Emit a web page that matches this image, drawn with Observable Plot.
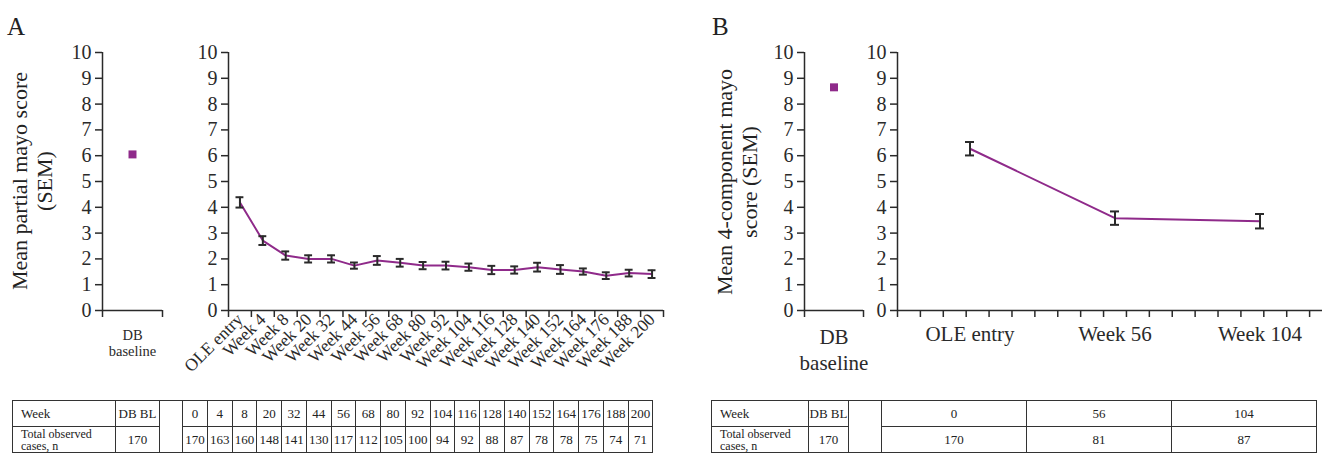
<!DOCTYPE html>
<html><head><meta charset="utf-8">
<script src="https://cdn.jsdelivr.net/npm/d3@7"></script>
<script src="https://cdn.jsdelivr.net/npm/@observablehq/plot@0.6"></script>
<style>
body{margin:0;background:#fff}
#root{position:relative;width:1322px;height:454px;overflow:hidden;background:#fff;font-family:"Liberation Serif",serif;color:#222}
#root svg{position:absolute;left:0;top:0}
.letter{position:absolute;font-size:25px;line-height:25px}
.ylab{position:absolute;font-size:22px;line-height:25px;text-align:center;white-space:nowrap;transform:translate(-50%,-50%) rotate(-90deg)}
table.n{position:absolute;border-collapse:collapse;table-layout:fixed;font-size:13px}
table.n td{border:1px solid #333;padding:0;text-align:center;height:25px;line-height:1;white-space:nowrap;overflow:hidden}
table.n td.h{text-align:left;padding-left:8px}
table.n td.t{text-align:left;padding-left:8px;font-size:12px;line-height:12px}
</style></head>
<body><div id="root"></div>
<script>
// ---- data ----
const weeksA = ["OLE entry","Week 4","Week 8","Week 20","Week 32","Week 44","Week 56","Week 68","Week 80","Week 92","Week 104","Week 116","Week 128","Week 140","Week 152","Week 164","Week 176","Week 188","Week 200"];
const meanA = [4.19,2.71,2.13,2.0,2.0,1.74,1.94,1.85,1.74,1.74,1.68,1.57,1.57,1.68,1.59,1.51,1.35,1.45,1.41];
const semA  = [0.20,0.17,0.16,0.14,0.14,0.12,0.17,0.15,0.14,0.15,0.14,0.16,0.14,0.17,0.17,0.12,0.13,0.13,0.15];
const weekNumsA = ["0","4","8","20","32","44","56","68","80","92","104","116","128","140","152","164","176","188","200"];
const nA = [170,163,160,148,141,130,117,112,105,100,94,92,88,87,78,78,75,74,71];
const dbCat = ["DB baseline"];
const dbMeanA = [6.05];
const dbN = 170;

const weeksB = ["OLE entry","Week 56","Week 104"];
const meanB = [6.27,3.58,3.46];
const semB  = [0.26,0.26,0.28];
const weekNumsB = ["0","56","104"];
const nB = [170,81,87];
const dbMeanB = [8.65];

const yTicks = [0,1,2,3,4,5,6,7,8,9,10];
const minorA = 19; // number of minor tick intervals on the OLE axis

// ---- helpers ----
const C = "#2a2a2a", PURPLE = "#8f2a8a", FONT = "Liberation Serif";
const root = document.getElementById("root");
const H = 454;
const style = {background:"transparent", overflow:"visible", maxWidth:"none", fontFamily:FONT, color:C};
function geo(x0, x1, width){ return {width, height:H, marginLeft:x0, marginRight:width-x1, marginTop:52, marginBottom:H-310}; }
function add(svg){ root.appendChild(svg); }

function axisPlot(g, n){
  return Plot.plot({...g, style,
    x:{domain:[0,n]}, y:{domain:[0,10]},
    marks:[
      Plot.ruleX([0], {y1:0, y2:10, stroke:C, strokeWidth:1.5}),
      Plot.ruleY([0], {stroke:C, strokeWidth:1.5}),
      Plot.axisY({ticks:yTicks, tickSize:7, tickPadding:4, fontSize:20, label:null, strokeWidth:1.5}),
      Plot.axisX({ticks:d3.range(0, n+1), tickSize:7, tickFormat:()=>"", label:null, strokeWidth:1.5})
    ]});
}
function dataPlot(g, cats, marks, axisOpts){
  return Plot.plot({...g, style,
    x:{type:"band", domain:cats, padding:0, round:false}, y:{domain:[0,10], axis:null},
    marks:[...marks, Plot.axisX({tickSize:0, label:null, ...axisOpts})]});
}
function seriesMarks(cats, mean, sem, capInset){
  const rows = cats.map((c,i)=>({c, m:mean[i], lo:mean[i]-sem[i], hi:mean[i]+sem[i]}));
  return [
    Plot.line(rows, {x:"c", y:"m", stroke:PURPLE, strokeWidth:2}),
    Plot.ruleX(rows, {x:"c", y1:"lo", y2:"hi", stroke:C, strokeWidth:2}),
    Plot.tickY(rows, {x:"c", y:"lo", stroke:C, strokeWidth:2, insetLeft:capInset, insetRight:capInset}),
    Plot.tickY(rows, {x:"c", y:"hi", stroke:C, strokeWidth:2, insetLeft:capInset, insetRight:capInset})
  ];
}
function dbMarks(vals){
  return [Plot.dot(vals, {x:()=>dbCat[0], y:d=>d, symbol:"square", r:4.5, fill:PURPLE})];
}

// ---- panel A ----
const gA1 = geo(102, 162, 175);
add(axisPlot(gA1, 1));
add(dataPlot(gA1, dbCat, dbMarks(dbMeanA), {fontSize:14.5, tickPadding:19, lineHeight:1.05, tickFormat:d=>d.replace(" ","\n")}));
const gA2 = geo(228, 663, 680);
add(axisPlot(gA2, minorA));
add(dataPlot(gA2, weeksA, seriesMarks(weeksA, meanA, semA, 7.5), {fontSize:17.5, tickRotate:-45, tickPadding:6, textAnchor:"end"}));

// ---- panel B ----
const gB1 = geo(804, 863, 880);
add(axisPlot(gB1, 1));
add(dataPlot(gB1, dbCat, dbMarks(dbMeanB), {fontSize:21, tickPadding:16, lineHeight:1.2, tickFormat:d=>d.replace(" ","\n")}));
const gB2 = geo(897, 1332, 1340);
add(axisPlot(gB2, minorA));
add(dataPlot(gB2, weeksB, seriesMarks(weeksB, meanB, semB, 68), {fontSize:21, tickPadding:16}));

// ---- text ----
function div(cls, html, css){ const d=document.createElement("div"); d.className=cls; d.innerHTML=html; Object.assign(d.style, css); root.appendChild(d); return d; }
div("letter","A",{left:"7px", top:"14px"});
div("letter","B",{left:"712px", top:"14px"});
div("ylab","Mean partial mayo score<br>(SEM)",{left:"32px", top:"181px"});
div("ylab","Mean 4-component mayo<br>score (SEM)",{left:"737px", top:"182px"});

// ---- tables ----
function table(left, top, widths, nums, ns, db){
  const t = document.createElement("table"); t.className="n";
  Object.assign(t.style, {left:left+"px", top:top+"px", width:d3.sum(widths)+"px"});
  const cg = document.createElement("colgroup");
  widths.forEach(w=>{ const c=document.createElement("col"); c.style.width=w+"px"; cg.appendChild(c); });
  t.appendChild(cg);
  const r1 = t.insertRow(), r2 = t.insertRow();
  let c = r1.insertCell(); c.className="h"; c.textContent="Week";
  c = r1.insertCell(); c.textContent="DB BL";
  c = r1.insertCell(); c.rowSpan=2;
  nums.forEach(v=>{ r1.insertCell().textContent=v; });
  c = r2.insertCell(); c.className="t"; c.innerHTML="Total observed<br>cases, n";
  c = r2.insertCell(); c.textContent=db;
  ns.forEach(v=>{ r2.insertCell().textContent=v; });
  root.appendChild(t);
}
table(12, 400, [103,44,23,...weekNumsA.map(()=>24.75)], weekNumsA, nA, dbN);
table(711, 400, [97,40,33,...weekNumsB.map(()=>145)], weekNumsB, nB, dbN);
</script></body></html>
